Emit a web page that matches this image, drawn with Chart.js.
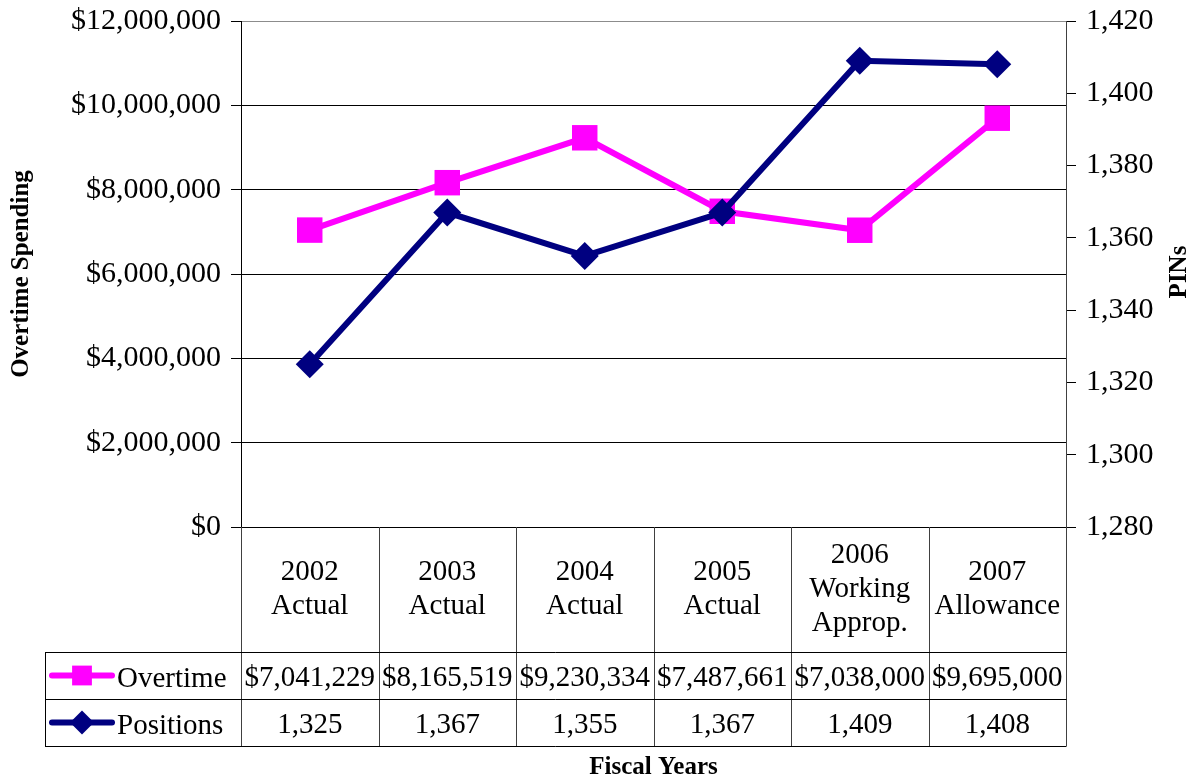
<!DOCTYPE html>
<html>
<head>
<meta charset="utf-8">
<script src="https://cdn.jsdelivr.net/npm/chart.js@4/dist/chart.umd.min.js"></script>
<style>
  html, body { margin: 0; padding: 0; background: #fff; }
  #wrap { width: 1199px; height: 782px; position: relative; }
</style>
</head>
<body>
<div id="wrap"><canvas id="c" width="1199" height="782"></canvas></div>
<script>
// Fiscal year categories (multi-line header cells of the data table)
const categories = [
  ['2002', 'Actual'],
  ['2003', 'Actual'],
  ['2004', 'Actual'],
  ['2005', 'Actual'],
  ['2006', 'Working', 'Approp.'],
  ['2007', 'Allowance']
];
// Series values
const overtime = [7041229, 8165519, 9230334, 7487661, 7038000, 9695000];
const positions = [1325, 1367, 1355, 1367, 1409, 1408];
// Axis tick values
const spendingTicks = [0, 2000000, 4000000, 6000000, 8000000, 10000000, 12000000];
const pinTicks = [1280, 1300, 1320, 1340, 1360, 1380, 1400, 1420];

const FONT = "'Liberation Serif', 'Times New Roman', serif";
const money = v => '$' + Math.round(v).toLocaleString('en-US');
const count = v => Math.round(v).toLocaleString('en-US');

const OVERTIME_COLOR = '#FF00FF';
const POSITIONS_COLOR = '#000080';

// Data table, axis titles and x-axis caption drawn under / beside the plot area
const tablePlugin = {
  id: 'dataTable',
  afterDraw(chart) {
    const ctx = chart.ctx;
    const x = chart.scales.x;
    const area = chart.chartArea;
    const left = area.left, right = area.right;
    const colW = (right - left) / categories.length;
    const top = area.bottom;
    const headBottom = top + 125;
    const row1Bottom = headBottom + 47;
    const row2Bottom = row1Bottom + 47;
    const legendLeft = 45;

    ctx.save();
    ctx.lineWidth = 1;

    // vertical column lines
    ctx.strokeStyle = '#404040';
    for (let i = 0; i <= categories.length; i++) {
      const px = Math.round(left + i * colW) + 0.5;
      ctx.beginPath();
      ctx.moveTo(px, top);
      ctx.lineTo(px, row2Bottom);
      ctx.stroke();
    }
    // horizontal row lines and legend cell
    ctx.strokeStyle = '#000';
    [headBottom, row1Bottom, row2Bottom].forEach(py => {
      ctx.beginPath();
      ctx.moveTo(legendLeft, Math.round(py) + 0.5);
      ctx.lineTo(Math.round(right) + 0.5, Math.round(py) + 0.5);
      ctx.stroke();
    });
    ctx.beginPath();
    ctx.moveTo(legendLeft + 0.5, headBottom);
    ctx.lineTo(legendLeft + 0.5, row2Bottom);
    ctx.stroke();

    // header text
    ctx.fillStyle = '#000';
    ctx.font = '29px ' + FONT;
    ctx.textAlign = 'center';
    ctx.textBaseline = 'middle';
    const lh = 34;
    categories.forEach((lines, i) => {
      const cx = x.getPixelForValue(i);
      const cy = (top + headBottom) / 2;
      const y0 = cy - (lines.length - 1) * lh / 2;
      lines.forEach((t, k) => ctx.fillText(t, cx, y0 + k * lh));
    });

    // value rows
    const r1 = (headBottom + row1Bottom) / 2 + 3;
    const r2 = (row1Bottom + row2Bottom) / 2 + 3;
    overtime.forEach((v, i) => ctx.fillText(money(v), x.getPixelForValue(i), r1));
    positions.forEach((v, i) => ctx.fillText(count(v), x.getPixelForValue(i), r2));

    // legend keys
    const keys = [
      { label: 'Overtime', color: OVERTIME_COLOR, style: 'rect', radius: 14, y: r1 - 3 },
      { label: 'Positions', color: POSITIONS_COLOR, style: 'rectRot', radius: 12, y: r2 - 3 }
    ];
    keys.forEach(k => {
      ctx.strokeStyle = k.color;
      ctx.lineWidth = 6;
      ctx.lineCap = 'round';
      ctx.beginPath();
      ctx.moveTo(52, k.y);
      ctx.lineTo(112, k.y);
      ctx.stroke();
      ctx.fillStyle = k.color;
      Chart.helpers.drawPoint(ctx, { pointStyle: k.style, radius: k.radius, borderWidth: 0, rotation: 0 }, 82, k.y);
      ctx.fillStyle = '#000';
      ctx.textAlign = 'left';
      ctx.fillText(k.label, 117, k.y + 4);
    });

    // titles
    ctx.font = 'bold 25px ' + FONT;
    ctx.textAlign = 'center';
    ctx.fillStyle = '#000';
    ctx.fillText('Fiscal Years', (left + right) / 2, 768);
    const midY = (area.top + area.bottom) / 2;
    ctx.save();
    ctx.translate(22, midY);
    ctx.rotate(-Math.PI / 2);
    ctx.fillText('Overtime Spending', 0, 0);
    ctx.restore();
    ctx.save();
    ctx.translate(1180, midY - 2);
    ctx.rotate(-Math.PI / 2);
    ctx.fillText('PINs', 0, 0);
    ctx.restore();

    ctx.restore();
  }
};

// fixed axis box widths; no extra label padding above/below the plot
const fitAxis = w => s => { s.width = w; s.paddingTop = 0; s.paddingBottom = 0; };

new Chart(document.getElementById('c'), {
  type: 'line',
  data: {
    labels: categories,
    datasets: [
      {
        label: 'Overtime',
        data: overtime,
        yAxisID: 'y',
        borderColor: OVERTIME_COLOR,
        backgroundColor: OVERTIME_COLOR,
        borderWidth: 6,
        pointStyle: 'rect',
        pointRadius: 18,
        pointHoverRadius: 18,
        pointBorderWidth: 0,
        tension: 0,
        order: 2
      },
      {
        label: 'Positions',
        data: positions,
        yAxisID: 'y1',
        borderColor: POSITIONS_COLOR,
        backgroundColor: POSITIONS_COLOR,
        borderWidth: 6,
        pointStyle: 'rectRot',
        pointRadius: 14,
        pointHoverRadius: 14,
        pointBorderWidth: 0,
        tension: 0,
        order: 1
      }
    ]
  },
  options: {
    responsive: false,
    animation: false,
    devicePixelRatio: 1,
    layout: { padding: { top: 21, bottom: 255, left: 0, right: 0 } },
    plugins: { legend: { display: false }, tooltip: { enabled: false }, title: { display: false } },
    scales: {
      x: { type: 'category', display: false, offset: true },
      y: {
        position: 'left',
        min: spendingTicks[0],
        max: spendingTicks[spendingTicks.length - 1],
        ticks: {
          stepSize: spendingTicks[1] - spendingTicks[0],
          callback: v => money(v),
          font: { family: FONT, size: 30 },
          color: '#000',
          padding: 10
        },
        grid: {
          color: c => (c.index === spendingTicks.length - 1 ? '#8c8c8c' : '#000'),
          lineWidth: 1,
          tickLength: 10,
          tickColor: '#000'
        },
        border: { color: '#000', width: 1 },
        afterFit: fitAxis(241)
      },
      y1: {
        position: 'right',
        min: pinTicks[0],
        max: pinTicks[pinTicks.length - 1],
        ticks: {
          stepSize: pinTicks[1] - pinTicks[0],
          callback: v => count(v),
          font: { family: FONT, size: 30 },
          color: '#000',
          padding: 10
        },
        grid: { drawOnChartArea: false, tickLength: 10, tickColor: '#000', lineWidth: 1 },
        border: { color: '#404040', width: 1 },
        afterFit: fitAxis(133)
      }
    }
  },
  plugins: [tablePlugin]
});
</script>
</body>
</html>
